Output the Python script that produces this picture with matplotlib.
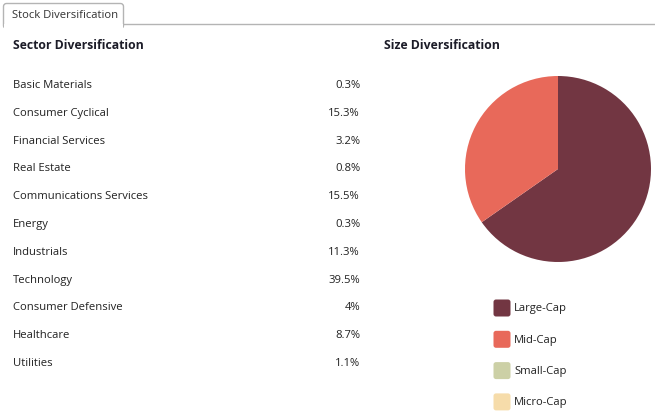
import matplotlib.pyplot as plt
from matplotlib.patches import FancyBboxPatch, Rectangle

plt.rcParams['font.family'] = ['Open Sans', 'DejaVu Sans']

# ---- data
sectors = ['Basic Materials', 'Consumer Cyclical', 'Financial Services', 'Real Estate',
           'Communications Services', 'Energy', 'Industrials', 'Technology',
           'Consumer Defensive', 'Healthcare', 'Utilities']
sector_pct = ['0.3%', '15.3%', '3.2%', '0.8%', '15.5%', '0.3%', '11.3%', '39.5%',
              '4%', '8.7%', '1.1%']
size_labels = ['Large-Cap', 'Mid-Cap', 'Small-Cap', 'Micro-Cap']
size_values = [65.3, 34.7, 0.0, 0.0]
size_colors = ['#723642', '#e8695a', '#ccd0a6', '#f6dcaa']

W, H = 655, 420
fs = 8.1
head = dict(fontsize=8.8, fontweight='bold', color='#1c1c28', va='center')
fig = plt.figure(figsize=(W / 100, H / 100), dpi=100)
ax = fig.add_axes([0, 0, 1, 1])
ax.set_xlim(0, W)
ax.set_ylim(H, 0)
ax.axis('off')

#%% tab
tab = FancyBboxPatch((3.5, 3.5), 120, 25, boxstyle='round,pad=0,rounding_size=3',
                     fc='white', ec='#b4b4b4', lw=1)
ax.add_patch(tab)
ax.plot([123.5, W], [23.5, 23.5], color='#b4b4b4', lw=1)
ax.add_patch(Rectangle((4.2, 23.6), 118.6, 6, fc='white', ec='none', zorder=3))
ax.text(12, 15, 'Stock Diversification', fontsize=fs, color='#333333', va='center')

#%% sector list
ax.text(13, 45.5, 'Sector Diversification', **head)
for i in range(len(sectors)):
    y = 85.5 + i * 27.8
    ax.text(13, y, sectors[i], fontsize=fs, color='#222222', va='center')
    ax.text(360, y, sector_pct[i], fontsize=fs, color='#222222', va='center', ha='right')

#%% size pie
ax.text(384, 45.5, 'Size Diversification', **head)
cx, cy, r = 558, 169, 93
pax = fig.add_axes([(cx - r) / W, (H - cy - r) / H, 2 * r / W, 2 * r / H])
pax.pie(size_values, colors=size_colors, startangle=90, counterclock=False,
        wedgeprops=dict(lw=0))
pax.set_xlim(-1, 1)
pax.set_ylim(-1, 1)
pax.set_aspect('equal')
pax.axis('off')

clip = Rectangle((0, 0), 566, H, transform=ax.transData)
for i in range(len(size_labels)):
    y = 308 + i * 31.3
    ax.add_patch(FancyBboxPatch((493.5, y - 8.5), 17, 17,
                                boxstyle='round,pad=0,rounding_size=2.5',
                                fc=size_colors[i], ec='none'))
    t = ax.text(514, y + 1, size_labels[i], fontsize=fs, color='#222222', va='center',
                clip_on=True)
    t.set_clip_path(clip)

fig.savefig('out.png', dpi=100)
